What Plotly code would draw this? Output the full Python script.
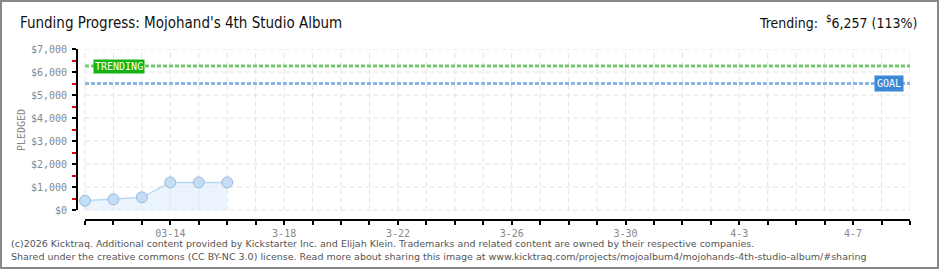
import datetime as dt
import plotly.graph_objects as go

# ---------------- data ----------------
dates = ["2026-03-11", "2026-03-12", "2026-03-13", "2026-03-14", "2026-03-15", "2026-03-16"]
pledged = [400, 465, 550, 1200, 1200, 1200]
goal = 5500
trending = 6257
percent = 113

axis_start = "2026-03-11"
axis_end = "2026-04-09"
label_dates = ["2026-03-14", "2026-03-18", "2026-03-22", "2026-03-26", "2026-03-30", "2026-04-03", "2026-04-07"]
label_texts = ["03-14", "3-18", "3-22", "3-26", "3-30", "4-3", "4-7"]
y_ticks = [0, 1000, 2000, 3000, 4000, 5000, 6000, 7000]
y_labels = ["$0", "$1,000", "$2,000", "$3,000", "$4,000", "$5,000", "$6,000", "$7,000"]
y_minor = [500, 1500, 2500, 3500, 4500, 5500, 6500]

# ---------------- layout geometry ----------------
W, H = 940, 270
ML, MR, MT, MB = 77, 30, 49, 50
PW, PH = W - ML - MR, H - MT - MB

d0 = dt.datetime.fromisoformat(axis_start)
d1 = dt.datetime.fromisoformat(axis_end)
span_days = (d1 - d0).days
px_per_day = (PW - 8) / span_days
x_lo = d0 - dt.timedelta(days=8 / px_per_day)
px_per_unit = (PH - 10) / 7000
y_lo = -10 / px_per_unit

day_list = [d0 + dt.timedelta(days=i) for i in range(span_days + 1)]


def px(xp):
    return (xp - ML) / PW


def py(yp):
    return (MT + PH - yp) / PH


fig = go.Figure()

shapes = []
grid_col = "#e3e3e3"
for d in day_list:
    shapes.append(dict(type="line", xref="x", yref="y", x0=d, x1=d, y0=0, y1=7000,
                       line=dict(color=grid_col, width=1, dash="5px,3px"), layer="below"))
for v in y_ticks:
    shapes.append(dict(type="line", xref="x", yref="y", x0=d0, x1=d1, y0=v, y1=v,
                       line=dict(color=grid_col, width=1, dash="5px,3px"), layer="below"))

# goal / trending lines
shapes.append(dict(type="line", xref="x", yref="y", x0=d0, x1=d1, y0=trending, y1=trending,
                   line=dict(color="#74c874", width=3, dash="4px,2px")))
shapes.append(dict(type="line", xref="x", yref="y", x0=d0, x1=d1, y0=goal, y1=goal,
                   line=dict(color="#8cb6e2", width=3, dash="4px,2px")))

# axis lines
shapes.append(dict(type="line", xref="paper", yref="y", x0=0, x1=0, y0=0, y1=7000,
                   line=dict(color="#000", width=2)))
shapes.append(dict(type="line", xref="x", yref="paper", x0=d0, x1=d1, y0=0, y1=0,
                   line=dict(color="#000", width=2)))

# outer frame
shapes.append(dict(type="rect", xref="paper", yref="paper", x0=px(1), x1=px(938), y0=py(1), y1=py(268),
                   line=dict(color="#888888", width=2)))

fig.add_trace(go.Scatter(
    x=dates, y=pledged, mode="lines+markers", fill="tozeroy",
    fillcolor="rgba(222,236,251,0.6)",
    line=dict(color="#b9d7f5", width=1.5),
    marker=dict(size=11, color="#c4ddf7", line=dict(color="#9ab8db", width=1)),
    hoverinfo="skip", showlegend=False,
))

annotations = [
    dict(text="TRENDING", xref="x", yref="y", x=d0, y=trending, xanchor="left", yanchor="middle",
         xshift=8, showarrow=False, bgcolor="#13b313", borderpad=1,
         font=dict(family="DejaVu Sans Mono", size=10, color="white")),
    dict(text="GOAL", xref="x", yref="y", x=d1, y=goal, xanchor="right", yanchor="middle",
         xshift=-6, showarrow=False, bgcolor="#3b88d8", borderpad=2,
         font=dict(family="DejaVu Sans Mono", size=10, color="white")),
    dict(text="PLEDGED", xref="paper", yref="paper", x=px(21), y=py(130), textangle=-90,
         showarrow=False, xanchor="center", yanchor="middle",
         font=dict(family="DejaVu Sans Mono", size=10, color="#888888")),
    dict(text="Trending:  <sup>$</sup>6,257 (113%)", xref="paper", yref="paper", x=px(919), y=py(22),
         showarrow=False, xanchor="right", yanchor="middle",
         font=dict(family="DejaVu Sans Condensed", size=14, color="#111111")),
    dict(text="(c)2026 Kicktraq. Additional content provided by Kickstarter Inc. and Elijah Klein. Trademarks and related content are owned by their respective companies.",
         xref="paper", yref="paper", x=px(9), y=py(243), showarrow=False, xanchor="left", yanchor="middle",
         font=dict(family="DejaVu Sans", size=9.5, color="#555555")),
    dict(text="Shared under the creative commons (CC BY-NC 3.0) license. Read more about sharing this image at www.kicktraq.com/projects/mojoalbum4/mojohands-4th-studio-album/#sharing",
         xref="paper", yref="paper", x=px(9), y=py(256), showarrow=False, xanchor="left", yanchor="middle",
         font=dict(family="DejaVu Sans", size=9.5, color="#555555")),
]

fig.update_layout(
    width=W, height=H,
    margin=dict(l=ML, r=MR, t=MT, b=MB, pad=0),
    paper_bgcolor="white", plot_bgcolor="white",
    title=dict(text="Funding Progress: Mojohand's 4th Studio Album", x=20 / W, xanchor="left",
               xref="container", y=1 - 23 / H, yanchor="middle", yref="container",
               font=dict(family="DejaVu Sans Condensed", size=15, color="#111111")),
    shapes=shapes, annotations=annotations,
    xaxis=dict(type="date", range=[x_lo, d1], showgrid=False, zeroline=False, showline=False,
               tickmode="array", tickvals=label_dates, ticktext=label_texts,
               ticks="outside", ticklen=4, tickwidth=2, tickcolor="#000",
               minor=dict(tick0=axis_start, dtick=86400000, ticks="outside", ticklen=4,
                          tickwidth=2, tickcolor="#000", showgrid=False),
               tickfont=dict(family="DejaVu Sans Mono", size=10, color="#888888")),
    yaxis=dict(range=[y_lo, 7000], showgrid=False, zeroline=False, showline=False,
               tickmode="array", tickvals=y_ticks, ticktext=y_labels,
               ticks="outside", ticklen=4, tickwidth=2, tickcolor="#000", ticklabelstandoff=3,
               minor=dict(tickmode="array", tickvals=y_minor,
                          ticks="outside", ticklen=4, tickwidth=2, tickcolor="#e00000"),
               tickfont=dict(family="DejaVu Sans Mono", size=10, color="#888888")),
    hovermode=False,
)

fig.write_html("out.html")
